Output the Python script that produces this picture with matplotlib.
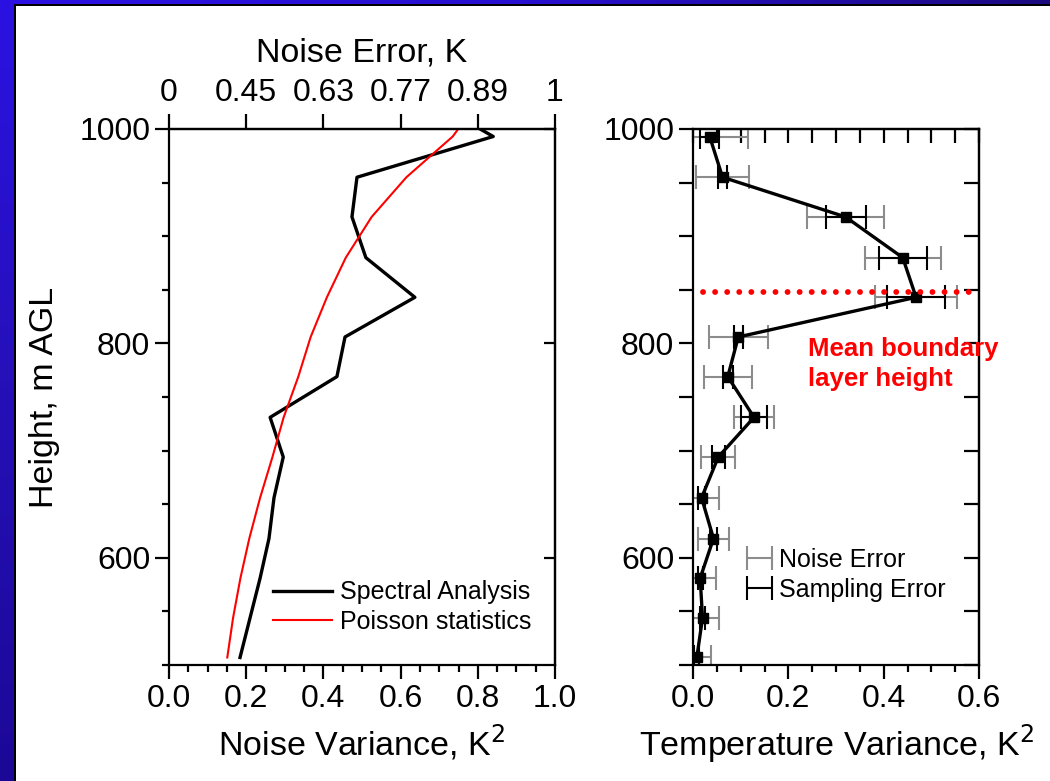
import numpy as np
import matplotlib.pyplot as plt
from matplotlib.colors import LinearSegmentedColormap
from matplotlib.patches import Rectangle
from matplotlib.ticker import MultipleLocator, FormatStrFormatter

plt.rcParams['font.family'] = ['Liberation Sans', 'DejaVu Sans']

# ---- left panel: noise variance profiles ----
height = [1030, 993, 955, 918, 880, 843, 806, 769, 731, 694, 656, 618, 581, 544, 507]
spectral = [0.66, 0.84, 0.487, 0.474, 0.51, 0.637, 0.456, 0.435, 0.262, 0.296,
            0.272, 0.259, 0.236, 0.21, 0.184]
poisson = [0.81, 0.735, 0.615, 0.525, 0.458, 0.409, 0.367, 0.335, 0.297, 0.268,
           0.236, 0.208, 0.185, 0.166, 0.151]
noise_ticks = [0, 0.2, 0.4, 0.6, 0.8, 1.0]
noise_labels = ['0', '0.45', '0.63', '0.77', '0.89', '1']

# ---- right panel: temperature variance with error bars ----
t_height = [993, 955, 918, 880, 843, 806, 769, 731, 694, 656, 618, 581, 544, 507]
t_var = [0.035, 0.062, 0.32, 0.44, 0.468, 0.095, 0.073, 0.128, 0.053, 0.018,
         0.043, 0.015, 0.02, 0.008]
noise_err = [0.08, 0.055, 0.08, 0.08, 0.086, 0.062, 0.05, 0.041, 0.036, 0.037,
             0.033, 0.033, 0.035, 0.03]
samp_err = [0.02, 0.009, 0.042, 0.05, 0.06, 0.01, 0.01, 0.027, 0.014, 0.008,
            0.008, 0.005, 0.005, 0.005]
bl_height = 848
bl_x = [0.02, 0.6]

W, H = 1050, 781
fig = plt.figure(figsize=(W / 100, H / 100), dpi=100)

# slide border (blue strips + black edge)
cm_left = LinearSegmentedColormap.from_list('l', ['#2c12e2', '#2510b8', '#1c0896'])
bx = fig.add_axes([0, 0, 14 / W, 1])
bx.imshow(np.linspace(0, 1, 256).reshape(-1, 1), aspect='auto', cmap=cm_left)
bx.axis('off')
cm_top = LinearSegmentedColormap.from_list('t', ['#2c12e2', '#2810d0', '#1c0a80'])
tx = fig.add_axes([0, 1 - 4 / H, 1, 4 / H])
tx.imshow(np.linspace(0, 1, 256).reshape(1, -1), aspect='auto', cmap=cm_top)
tx.axis('off')
fig.add_artist(Rectangle((14 / W, 0), 2 / W, 1 - 4 / H, transform=fig.transFigure,
                         color='black', lw=0))
fig.add_artist(Rectangle((14 / W, 1 - 6 / H), 1 - 14 / W, 2 / H,
                         transform=fig.transFigure, color='black', lw=0))

ax1 = fig.add_axes([169 / W, 116 / H, 386 / W, 536 / H])
ax2 = fig.add_axes([693 / W, 116 / H, 286 / W, 536 / H])

for ax in (ax1, ax2):
    for sp in ax.spines.values():
        sp.set_linewidth(1.6)
    ax.set_ylim(500, 1000)
    ax.yaxis.set_major_locator(MultipleLocator(200))
    ax.yaxis.set_minor_locator(MultipleLocator(50))
    ax.xaxis.set_major_formatter(FormatStrFormatter('%.1f'))
    ax.tick_params(which='major', direction='out', length=10, width=1.6,
                   labelsize=23, top=False, right=False)
    ax.tick_params(which='minor', direction='out', length=5, width=1.6,
                   top=False, right=False)

# left panel
ax1.plot(spectral, height, color='black', lw=2.4, label='Spectral Analysis')
ax1.plot(poisson, height, color='red', lw=1.5, label='Poisson statistics')
ax1.set_xlim(0, 1)
ax1.xaxis.set_major_locator(MultipleLocator(0.2))
ax1.xaxis.set_minor_locator(MultipleLocator(0.05))
ax1.set_xlabel('Noise Variance, K$^2$', fontsize=24.5, labelpad=6)
ax1.set_ylabel('Height, m AGL', fontsize=24.5, labelpad=14)
ax1.legend(loc='center left', bbox_to_anchor=(0.269, 0.108), frameon=False,
           fontsize=18, handlelength=2.35, handletextpad=0.35,
           labelspacing=0.22, borderpad=0, borderaxespad=0)

top = ax1.secondary_xaxis('top')
top.set_xticks(noise_ticks, noise_labels)
top.tick_params(direction='out', length=11, width=1.6, labelsize=23, pad=4)
top.set_xlabel('Noise Error, K', fontsize=24.5, labelpad=12)
top.spines['top'].set_linewidth(1.6)

r1 = ax1.secondary_yaxis('right')
r1.set_yticks([600, 800, 1000])
r1.tick_params(direction='in', length=8, width=1.6, labelright=False)
r1.spines['right'].set_linewidth(1.6)

# right panel
e_noise = ax2.errorbar(t_var, t_height, xerr=noise_err, fmt='none', ecolor='#8c8c8c',
                       elinewidth=1.5, capsize=8.5, capthick=1.5, label='Noise Error')
e_samp = ax2.errorbar(t_var, t_height, xerr=samp_err, fmt='none', ecolor='black',
                      elinewidth=1.5, capsize=8.5, capthick=1.5, label='Sampling Error')
ax2.plot(t_var, t_height, color='black', lw=2.4, marker='s', markersize=6.5)
ax2.plot(bl_x, [bl_height, bl_height], color='red', lw=4.2,
         linestyle=(0, (0.01, 2.06)), dash_capstyle='round', clip_on=False)
ax2.text(0.241, 806, 'Mean boundary\nlayer height', color='red', fontsize=18.5,
         fontweight='bold', ha='left', va='top', linespacing=1.3, clip_on=False)
ax2.set_xlim(0, 0.6)
ax2.xaxis.set_major_locator(MultipleLocator(0.2))
ax2.xaxis.set_minor_locator(MultipleLocator(0.05))
ax2.tick_params(axis='y', which='minor', length=10)
ax2.set_xlabel('Temperature Variance, K$^2$', fontsize=24.5, labelpad=6)
ax2.legend(handles=[e_noise, e_samp], loc='center left',
           bbox_to_anchor=(0.2, 0.168), frameon=False, fontsize=18,
           handlelength=0.75, handletextpad=0.4, labelspacing=0.25,
           borderpad=0, borderaxespad=0)

t2 = ax2.secondary_xaxis('top')
t2.xaxis.set_major_locator(MultipleLocator(0.05))
t2.tick_params(direction='in', length=10, width=1.6, labeltop=False)
t2.spines['top'].set_linewidth(1.6)
r2 = ax2.secondary_yaxis('right')
r2.yaxis.set_major_locator(MultipleLocator(50))
r2.tick_params(direction='in', length=11, width=1.6, labelright=False)
r2.spines['right'].set_linewidth(1.6)

fig.savefig('out.png', dpi=100, facecolor='white')
